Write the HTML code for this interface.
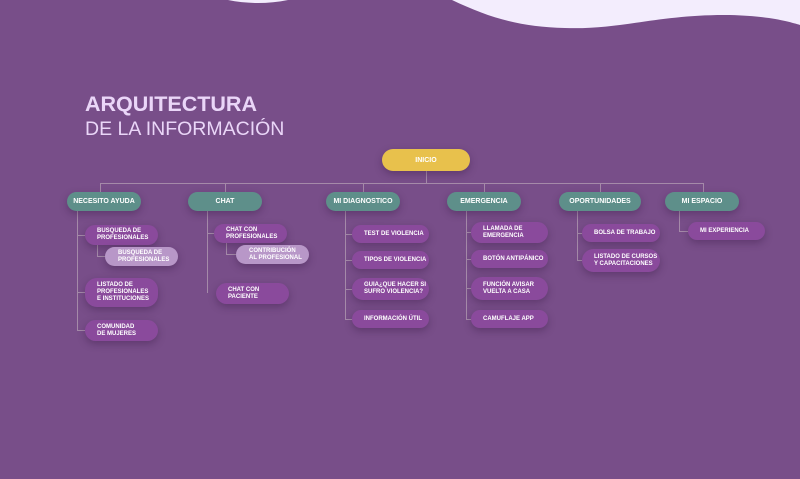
<!DOCTYPE html>
<html><head><meta charset="utf-8"><style>
body{margin:0;width:800px;height:479px;background:#784e89;position:relative;overflow:hidden;font-family:"Liberation Sans",sans-serif}
.b{position:absolute;border-radius:12px;color:#fff;font-weight:bold;font-size:6px;line-height:7px;white-space:nowrap;display:flex;align-items:center;box-sizing:border-box;box-shadow:0 3px 8px rgba(50,20,60,.35)}
.t{background:#5e8f8a;justify-content:center;font-size:7px}
.p{background:#8a4a9c;padding-left:12px}
.l{background:#b897c8;padding-left:13px}
.ln{position:absolute;background:#a58aa9}
.title{position:absolute;left:85px;color:#ead6f8;white-space:nowrap}
</style></head><body>
<svg style="position:absolute;left:0;top:0" width="800" height="40"><path d="M452 0 C490 18 520 27 565 28 C620 30 660 14 730 15 C770 16 790 22 800 25 L800 0 Z" fill="#f3edfd"/><path d="M228 0 C248 4 268 4 288 0 Z" fill="#f3edfd"/></svg>
<div class="title" style="top:92px;font-size:21.5px;font-weight:bold">ARQUITECTURA</div>
<div class="title" style="top:118px;font-size:19.5px;font-weight:300">DE LA INFORMACIÓN</div>

<div class="ln" style="left:426px;top:171px;width:1px;height:12px"></div>
<div class="ln" style="left:100px;top:183px;width:604px;height:1px"></div>
<div class="ln" style="left:100px;top:183px;width:1px;height:9px"></div>
<div class="ln" style="left:225px;top:183px;width:1px;height:9px"></div>
<div class="ln" style="left:363px;top:183px;width:1px;height:9px"></div>
<div class="ln" style="left:484px;top:183px;width:1px;height:9px"></div>
<div class="ln" style="left:600px;top:183px;width:1px;height:9px"></div>
<div class="ln" style="left:703px;top:183px;width:1px;height:9px"></div>

<div class="ln" style="left:77px;top:211px;width:1px;height:120px"></div>
<div class="ln" style="left:77px;top:235px;width:8px;height:1px"></div>
<div class="ln" style="left:97px;top:245px;width:1px;height:11px"></div>
<div class="ln" style="left:97px;top:256px;width:8px;height:1px"></div>
<div class="ln" style="left:77px;top:292px;width:8px;height:1px"></div>
<div class="ln" style="left:77px;top:330px;width:8px;height:1px"></div>

<div class="ln" style="left:207px;top:211px;width:1px;height:82px"></div>
<div class="ln" style="left:207px;top:233px;width:7px;height:1px"></div>
<div class="ln" style="left:226px;top:242px;width:1px;height:12px"></div>
<div class="ln" style="left:226px;top:254px;width:10px;height:1px"></div>

<div class="ln" style="left:345px;top:211px;width:1px;height:108px"></div>
<div class="ln" style="left:345px;top:234px;width:7px;height:1px"></div>
<div class="ln" style="left:345px;top:260px;width:7px;height:1px"></div>
<div class="ln" style="left:345px;top:289px;width:7px;height:1px"></div>
<div class="ln" style="left:345px;top:319px;width:7px;height:1px"></div>

<div class="ln" style="left:466px;top:211px;width:1px;height:108px"></div>
<div class="ln" style="left:466px;top:232px;width:5px;height:1px"></div>
<div class="ln" style="left:466px;top:259px;width:5px;height:1px"></div>
<div class="ln" style="left:466px;top:288px;width:5px;height:1px"></div>
<div class="ln" style="left:466px;top:319px;width:5px;height:1px"></div>

<div class="ln" style="left:577px;top:211px;width:1px;height:50px"></div>
<div class="ln" style="left:577px;top:233px;width:5px;height:1px"></div>
<div class="ln" style="left:577px;top:260px;width:5px;height:1px"></div>

<div class="ln" style="left:679px;top:211px;width:1px;height:20px"></div>
<div class="ln" style="left:679px;top:231px;width:9px;height:1px"></div>

<div class="b" style="left:382px;top:149px;width:88px;height:22px;background:#e8c14c;justify-content:center;font-size:7px">INICIO</div>

<div class="b t" style="left:67px;top:192px;width:74px;height:19px">NECESITO AYUDA</div>
<div class="b t" style="left:188px;top:192px;width:74px;height:19px">CHAT</div>
<div class="b t" style="left:326px;top:192px;width:74px;height:19px">MI DIAGNOSTICO</div>
<div class="b t" style="left:447px;top:192px;width:74px;height:19px">EMERGENCIA</div>
<div class="b t" style="left:559px;top:192px;width:82px;height:19px">OPORTUNIDADES</div>
<div class="b t" style="left:665px;top:192px;width:74px;height:19px">MI ESPACIO</div>

<div class="b p" style="left:85px;top:225px;width:73px;height:20px">BUSQUEDA DE<br>PROFESIONALES</div>
<div class="b l" style="left:105px;top:247px;width:73px;height:19px">BUSQUEDA DE<br>PROFESIONALES</div>
<div class="b p" style="left:85px;top:278px;width:73px;height:29px">LISTADO DE<br>PROFESIONALES<br>E INSTITUCIONES</div>
<div class="b p" style="left:85px;top:320px;width:73px;height:21px">COMUNIDAD<br>DE MUJERES</div>

<div class="b p" style="left:214px;top:224px;width:73px;height:19px">CHAT CON<br>PROFESIONALES</div>
<div class="b l" style="left:236px;top:245px;width:73px;height:19px">CONTRIBUCIÓN<br>AL PROFESIONAL</div>
<div class="b p" style="left:216px;top:283px;width:73px;height:21px">CHAT CON<br>PACIENTE</div>

<div class="b p" style="left:352px;top:225px;width:77px;height:18px">TEST DE VIOLENCIA</div>
<div class="b p" style="left:352px;top:251px;width:77px;height:18px">TIPOS DE VIOLENCIA</div>
<div class="b p" style="left:352px;top:278px;width:77px;height:22px">GUIA¿QUE HACER SI<br>SUFRO VIOLENCIA?</div>
<div class="b p" style="left:352px;top:310px;width:77px;height:18px">INFORMACIÓN ÚTIL</div>

<div class="b p" style="left:471px;top:222px;width:77px;height:21px">LLAMADA DE<br>EMERGENCIA</div>
<div class="b p" style="left:471px;top:250px;width:77px;height:18px">BOTÓN ANTIPÁNICO</div>
<div class="b p" style="left:471px;top:277px;width:77px;height:23px">FUNCIÓN AVISAR<br>VUELTA A CASA</div>
<div class="b p" style="left:471px;top:310px;width:77px;height:18px">CAMUFLAJE APP</div>

<div class="b p" style="left:582px;top:224px;width:78px;height:18px">BOLSA DE TRABAJO</div>
<div class="b p" style="left:582px;top:249px;width:78px;height:23px">LISTADO DE CURSOS<br>Y CAPACITACIONES</div>

<div class="b p" style="left:688px;top:222px;width:77px;height:18px">MI EXPERIENCIA</div>
</body></html>
